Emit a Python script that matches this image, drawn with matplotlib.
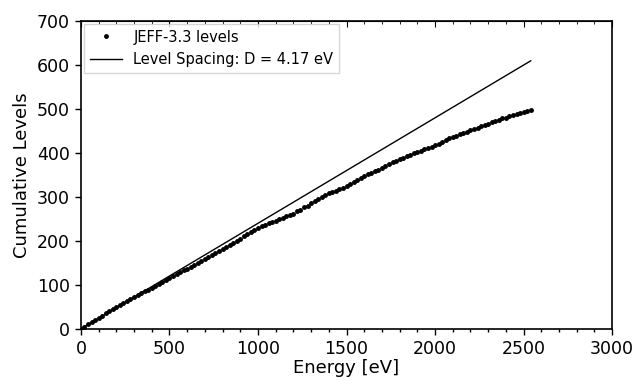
import matplotlib
matplotlib.use('Agg')
import matplotlib.pyplot as plt
from matplotlib.ticker import MultipleLocator

# cumulative level count (every 20 eV)
energy = [0, 20, 40, 60, 80, 100, 120, 140, 160, 180, 200, 220, 240, 260, 280, 300,
          320, 340, 360, 380, 400, 420, 440, 460, 480, 500, 520, 540, 560, 580, 600,
          620, 640, 660, 680, 700, 720, 740, 760, 780, 800, 820, 840, 860, 880, 900,
          920, 940, 960, 980, 1000, 1020, 1040, 1060, 1080, 1100, 1120, 1140, 1160, 1180,
          1200, 1220, 1240, 1260, 1280, 1300, 1320, 1340, 1360, 1380, 1400, 1420, 1440,
          1460, 1480, 1500, 1520, 1540, 1560, 1580, 1600, 1620, 1640, 1660, 1680, 1700,
          1720, 1740, 1760, 1780, 1800, 1820, 1840, 1860, 1880, 1900, 1920, 1940, 1960,
          1980, 2000, 2020, 2040, 2060, 2080, 2100, 2120, 2140, 2160, 2180, 2200, 2220,
          2240, 2260, 2280, 2300, 2320, 2340, 2360, 2380, 2400, 2420, 2440, 2460, 2480,
          2500, 2520, 2540]
levels = [0, 5, 10, 16, 21, 25, 30, 35, 40, 45, 50, 54, 59, 64, 68, 73,
          77, 81, 85, 89, 93, 97, 102, 107, 111, 116, 120, 124, 128, 133, 137,
          141, 146, 150, 155, 159, 164, 168, 173, 177, 182, 186, 191, 196, 200, 205,
          210, 215, 220, 225, 230, 233, 236, 240, 243, 246, 249, 252, 256, 259,
          262, 267, 271, 276, 280, 285, 290, 295, 300, 305, 309, 311, 314,
          318, 321, 325, 330, 334, 338, 343, 347, 351, 355, 359, 362, 366,
          370, 374, 378, 382, 386, 389, 392, 396, 399, 402, 405, 408, 411,
          414, 417, 420, 424, 429, 433, 436, 439, 442, 445, 448, 451, 454,
          457, 460, 463, 466, 469, 472, 475, 478, 480, 483, 486, 488, 490,
          493, 496, 498]

# mean level spacing line
line_energy = [0, 2540]
line_levels = [0, 609]

fig = plt.figure(figsize=(6.37, 3.85), dpi=100)
ax = fig.add_axes([0.127, 0.146, 0.834, 0.800])

ax.plot(energy, levels, '.', color='black', markersize=5, label='JEFF-3.3 levels')
ax.plot(line_energy, line_levels, '-', color='black', linewidth=1.0,
        label='Level Spacing: D = 4.17 eV')

ax.set_xlim(0, 3000)
ax.set_ylim(0, 700)
ax.xaxis.set_major_locator(MultipleLocator(500))
ax.xaxis.set_minor_locator(MultipleLocator(100))
ax.yaxis.set_major_locator(MultipleLocator(100))
ax.tick_params(which='both', direction='out', labelsize=12.5, width=1.0)
ax.tick_params(which='major', length=4.5)
ax.tick_params(which='minor', length=2.5)

# top axis: ticks only, pointing inward
top = ax.secondary_xaxis('top')
top.xaxis.set_major_locator(MultipleLocator(500))
top.xaxis.set_minor_locator(MultipleLocator(100))
top.tick_params(which='both', direction='in', labeltop=False)
top.tick_params(which='major', length=4.5)
top.tick_params(which='minor', length=2.5)

for s in ax.spines.values():
    s.set_linewidth(1.2)

ax.set_xlabel('Energy [eV]', fontsize=13, labelpad=1)
ax.set_ylabel('Cumulative Levels', fontsize=13)

ax.legend(loc='upper left', numpoints=1, fontsize=10.5, fancybox=False,
          borderaxespad=0.2, handlelength=2.2)

fig.savefig('out.png', dpi=100)
